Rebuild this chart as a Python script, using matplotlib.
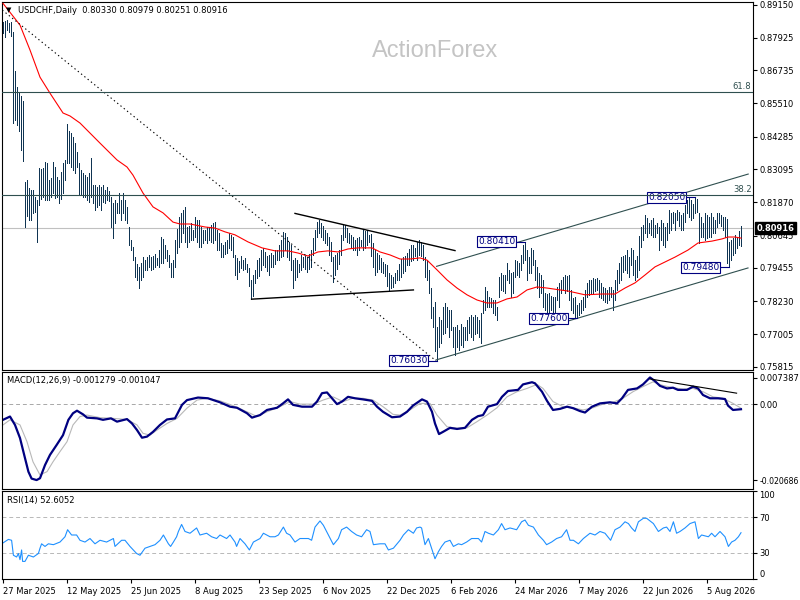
import numpy as np
import matplotlib
matplotlib.use("Agg")
import matplotlib.pyplot as plt
import matplotlib.transforms as mtransforms

W, H = 800, 600

# daily bars, prices in 1/10000 (bar 0 = 27 Mar 2025)
highs = [
    8850, 8855, 8860, 8848, 8852, 8815, 8670, 8610, 8590, 8580,
    8560, 8262, 8270, 8240, 8232, 8232, 8206, 8196, 8313, 8310,
    8313, 8335, 8332, 8269, 8276, 8335, 8317, 8280, 8269, 8300,
    8332, 8343, 8476, 8450, 8442, 8428, 8405, 8372, 8330, 8306,
    8295, 8287, 8280, 8295, 8350, 8250, 8250, 8243, 8250, 8243,
    8250, 8232, 8243, 8230, 8206, 8184, 8196, 8184, 8221, 8196,
    8221, 8196, 8170, 8096, 8048, 8023, 7986, 7960, 7949, 7964,
    7986, 7975, 7986, 7993, 7986, 7990, 7997, 7980, 8011, 8060,
    8050, 8030, 8011, 7993, 7964, 7975, 8048, 8090, 8133, 8147,
    8160, 8170, 8096, 8100, 8110, 8085, 8133, 8120, 8122, 8096,
    8085, 8085, 8096, 8096, 8105, 8111, 8115, 8085, 8074, 8037,
    8030, 8040, 8048, 8074, 8066, 8060, 7993, 7980, 7970, 7990,
    7974, 7980, 7960, 7945, 7901, 7920, 7938, 7974, 7980, 8011,
    8018, 8005, 7990, 7993, 8000, 7993, 8011, 8011, 8030, 8048,
    8078, 8074, 8060, 8040, 8030, 7974, 7980, 7974, 7960, 7993,
    7986, 7990, 7986, 7995, 8011, 8055, 8085, 8115, 8122, 8111,
    8100, 8085, 8074, 8060, 8040, 7986, 7993, 8000, 8011, 8066,
    8103, 8105, 8092, 8074, 8066, 8060, 8048, 8055, 8060, 8048,
    8085, 8080, 8085, 8066, 8070, 8037, 8011, 8000, 7993, 7980,
    7966, 7960, 7956, 7927, 7920, 7910, 7927, 7938, 7960, 7977,
    7986, 7990, 8000, 8015, 8030, 8030, 8018, 8041, 8048, 8041,
    8030, 7986, 7974, 7938, 7870, 7801, 7820, 7728, 7764, 7753,
    7800, 7816, 7801, 7790, 7790, 7728, 7728, 7735, 7717, 7740,
    7728, 7728, 7753, 7764, 7772, 7764, 7770, 7764, 7753, 7779,
    7827, 7875, 7860, 7838, 7835, 7827, 7827, 7801, 7912, 7927,
    7920, 7919, 7964, 7938, 7927, 7930, 7974, 7970, 7964, 7993,
    8030, 8041, 8011, 7986, 8018, 8011, 7974, 7950, 7927, 7919,
    7901, 7853, 7850, 7853, 7840, 7838, 7838, 7875, 7890, 7901,
    7912, 7919, 7915, 7919, 7864, 7835, 7838, 7809, 7816, 7827,
    7838, 7864, 7890, 7901, 7901, 7908, 7905, 7908, 7901, 7890,
    7875, 7870, 7864, 7875, 7875, 7864, 7901, 7938, 7964, 7986,
    7990, 7993, 8011, 7986, 8018, 8011, 7974, 7990, 8061, 8096,
    8103, 8140, 8129, 8111, 8120, 8129, 8103, 8111, 8096, 8122,
    8110, 8096, 8111, 8159, 8147, 8151, 8147, 8159, 8150, 8140,
    8147, 8177, 8196, 8203, 8196, 8180, 8205, 8200, 8147, 8133,
    8111, 8147, 8140, 8133, 8147, 8133, 8122, 8147, 8147, 8140,
    8133, 8133, 8125, 8040, 8048, 8055, 8066, 8060, 8080, 8098,
]
lows = [
    8812, 8795, 8820, 8815, 8800, 8480, 8490, 8470, 8450, 8380,
    8340, 8096, 8135, 8122, 8122, 8147, 8150, 8042, 8177, 8200,
    8206, 8196, 8196, 8196, 8206, 8221, 8203, 8206, 8184, 8200,
    8221, 8269, 8332, 8330, 8317, 8306, 8295, 8317, 8214, 8214,
    8206, 8206, 8196, 8188, 8206, 8184, 8159, 8170, 8177, 8159,
    8188, 8184, 8196, 8190, 8096, 8056, 8111, 8147, 8147, 8122,
    8147, 8122, 8111, 8030, 8012, 7975, 7912, 7900, 7872, 7901,
    7912, 7938, 7938, 7949, 7938, 7940, 7949, 7955, 7949, 7964,
    7964, 7980, 7970, 7949, 7912, 7912, 7949, 8000, 8023, 8040,
    8074, 8040, 8023, 8040, 8048, 8048, 8060, 8040, 8023, 8023,
    8037, 8048, 8037, 8048, 8040, 8037, 8048, 8011, 8011, 7986,
    7986, 7995, 8000, 8020, 8011, 7986, 7920, 7905, 7930, 7945,
    7938, 7940, 7930, 7880, 7830, 7840, 7890, 7908, 7915, 7938,
    7956, 7950, 7935, 7920, 7950, 7950, 7960, 7974, 7975, 7985,
    7990, 8011, 7986, 7974, 7938, 7872, 7900, 7912, 7930, 7938,
    7949, 7940, 7930, 7940, 7949, 7993, 8011, 8060, 8074, 8060,
    8048, 8037, 8030, 7993, 7970, 7893, 7919, 7940, 7960, 7993,
    8048, 8060, 8040, 8037, 8020, 8011, 8011, 7993, 8011, 8025,
    8011, 8020, 8030, 8040, 7990, 7950, 7920, 7930, 7940, 7930,
    7925, 7915, 7880, 7864, 7870, 7875, 7890, 7901, 7901, 7912,
    7927, 7935, 7956, 7956, 7970, 7974, 7990, 7974, 7993, 7990,
    7974, 7912, 7901, 7853, 7760, 7728, 7640, 7603, 7654, 7669,
    7700, 7706, 7728, 7691, 7717, 7654, 7625, 7654, 7643, 7660,
    7654, 7680, 7680, 7706, 7691, 7680, 7700, 7706, 7691, 7669,
    7779, 7790, 7800, 7801, 7801, 7779, 7772, 7753, 7838, 7864,
    7860, 7853, 7901, 7890, 7838, 7853, 7912, 7920, 7912, 7938,
    7964, 7974, 7901, 7927, 7927, 7956, 7901, 7870, 7838, 7853,
    7801, 7790, 7780, 7783, 7790, 7779, 7764, 7827, 7801, 7853,
    7864, 7853, 7860, 7827, 7790, 7779, 7764, 7760, 7772, 7780,
    7790, 7801, 7838, 7846, 7853, 7853, 7860, 7864, 7838, 7835,
    7827, 7820, 7816, 7827, 7838, 7790, 7827, 7864, 7890, 7901,
    7930, 7938, 7927, 7912, 7956, 7919, 7901, 7910, 7938, 8023,
    8048, 8074, 8060, 8074, 8066, 8060, 8060, 8074, 8011, 8048,
    8030, 8023, 8048, 8074, 8085, 8111, 8085, 8122, 8100, 8085,
    8085, 8114, 8147, 8133, 8122, 8130, 8147, 8150, 8037, 8060,
    8060, 8048, 8055, 8060, 8060, 8074, 8074, 8096, 8111, 8100,
    8085, 8060, 7965, 7948, 7974, 7993, 8000, 8020, 8030, 8025,
]

# red moving average
ma_idx = [0, 8.5, 13.5, 18.5, 23.5, 30, 33.5, 38.5, 43.5, 48.5,
          57, 62, 65, 70, 75, 80, 85, 88.5, 93.5, 101,
          106, 111, 116, 122.5, 129.5, 136, 142.5, 147.5, 152.5, 157.5,
          162.5, 167.5, 172.5, 177.5, 184.5, 188.5, 193.5, 198.5, 203.5, 208.5,
          212, 217, 222, 227, 232, 237, 242, 247, 252, 257,
          262, 267, 272, 278.5, 282.5, 291, 299.5, 306, 311, 316,
          321, 326, 331, 336, 342.5, 347.5, 354.5, 359.5, 362.5, 366, 369]
ma_val = [8920, 8840, 8748, 8648, 8589, 8516, 8505, 8479, 8442, 8405,
          8343, 8317, 8287, 8221, 8170, 8148, 8114, 8107, 8107, 8096,
          8092, 8078, 8067, 8041, 8019, 8008, 8008, 8000, 7989, 8004,
          8008, 8004, 8015, 8019, 8019, 8004, 7993, 7978, 7978, 7982,
          7974, 7938, 7901, 7871, 7846, 7827, 7816, 7816, 7831, 7838,
          7864, 7875, 7871, 7864, 7860, 7846, 7849, 7849, 7871, 7890,
          7919, 7949, 7967, 7985, 8011, 8037, 8044, 8052, 8059, 8059, 8055]

# MACD (units of 1e-4)
macd_idx = [0, 3.5, 6, 8.5, 11, 12.7, 14.3, 16.8, 18.5, 21,
            23.5, 26.8, 30, 32.7, 35, 37, 40, 42, 47, 50,
            54, 57, 62, 64.5, 67, 69.5, 72, 75, 78.5, 82,
            86, 89.5, 92, 97.5, 102.5, 108.5, 113.5, 117, 122, 124.5,
            128.5, 132, 137, 140, 142.5, 145, 149.5, 154.5, 157, 159.5,
            162, 164.5, 167, 169.5, 172.5, 176, 180, 184.5, 187, 190,
            194.5, 198.5, 202, 205, 209.5, 212, 214.5, 216, 218, 220,
            223.5, 227, 231, 234.5, 237.5, 240, 242.5, 247, 249.5, 252.5,
            257.5, 260, 264.5, 266, 269.5, 272, 275, 278.5, 282, 285,
            288.5, 291, 294.5, 298.5, 303.5, 307, 309.5, 312.5, 317, 320,
            323.5, 326, 328.5, 332, 335, 337.5, 342, 345, 347.5, 350,
            353.5, 357.5, 361, 362.5, 365, 369]
macd_main = [-42, -33, -56, -92, -147, -184, -203, -207, -202, -166,
             -138, -111, -84, -42, -24, -17, -27, -36, -38, -42,
             -38, -47, -40, -52, -70, -91, -88, -75, -56, -41,
             -38, -1, 12, 19, 17, 6, -6, -9, -24, -36,
             -29, -15, -9, 3, 14, -1, -6, -6, 8, 31,
             33, 17, 1, 8, 21, 17, 14, 10, -6, -20,
             -35, -33, -20, -3, 14, 8, -20, -52, -81, -75,
             -64, -67, -64, -42, -32, -29, -6, 1, 21, 37,
             40, 55, 61, 58, 35, 10, -15, -12, -6, -10,
             -18, -22, -6, 3, 6, 3, 17, 40, 44, 55,
             74, 64, 51, 44, 46, 40, 40, 49, 44, 26,
             17, 17, 15, -3, -15, -13]
sig_idx = [0, 3.5, 8.5, 12, 15, 18.5, 22, 25, 28.5, 32,
           35, 38.5, 42, 48.5, 55, 62, 67, 70, 73.5, 77,
           82, 87, 92, 97, 102, 108.5, 115, 122, 127, 132,
           138.5, 143.5, 148.5, 155, 160, 165, 170, 175, 180, 185,
           190, 195, 198.5, 203.5, 208.5, 213.5, 217, 222, 227, 232,
           237, 242, 247, 252, 257, 262, 267, 270, 275, 280,
           285, 290, 295, 300, 305, 310, 315, 320, 325, 330,
           335, 340, 345, 350, 355, 360, 365, 369]
sig_vals = [-56, -42, -56, -102, -157, -193, -184, -157, -129, -102,
            -56, -33, -29, -36, -38, -41, -56, -79, -84, -70,
            -52, -38, -10, 12, 17, 10, -3, -20, -33, -20,
            -6, 8, 1, 1, 12, 21, 8, 17, 17, 12,
            -6, -27, -29, -15, 3, 3, -29, -61, -65, -64,
            -47, -29, -9, 21, 35, 44, 55, 44, 8, -6,
            -9, -15, -9, 1, 6, 17, 35, 49, 62, 52,
            46, 42, 44, 35, 21, 17, 3, -10]

# RSI(14)
rsi_idx = [0, 2.7, 4.3, 5.2, 6.8, 7.7, 8.5, 9.3, 9.8, 11,
           12.7, 15.2, 17.7, 18.5, 19.3, 21, 22.7, 25.2, 28.5, 31,
           32.3, 34.3, 36.8, 38.5, 41, 43.5, 46, 48.5, 51.8, 55.2,
           56, 59.3, 61, 63.5, 66.8, 68.5, 71, 73.5, 76, 78.5,
           80.2, 82.7, 83.8, 85.2, 86.8, 87.7, 89.3, 91, 93.5, 96.8,
           98.5, 101.8, 104.3, 106.8, 108.5, 111.8, 113.5, 116, 116.8, 118.5,
           121, 123.2, 125.2, 128.5, 130.2, 133.5, 136, 137.7, 140.2, 141.8,
           143.5, 146, 148.5, 152.7, 154.3, 156, 158.5, 160.2, 162.7, 165.2,
           167.7, 169.3, 171.8, 174.3, 176.8, 179.3, 181.8, 183.5, 185.2, 188.5,
           191, 192.7, 195.2, 198.5, 200.2, 202.7, 205.2, 206.8, 208.5, 209.3,
           211, 212.7, 214.3, 216, 217.7, 219.3, 221, 223.5, 225.2, 227.7,
           229.3, 231.8, 234.3, 237.7, 239.3, 241, 242.7, 245.2, 247.7, 249.3,
           251, 253.5, 256.8, 259.3, 261, 262.7, 265.2, 267.7, 270.2, 271.8,
           274.3, 276.8, 279.3, 281.8, 283.5, 285.2, 287.7, 290.2, 293.5, 296,
           298.5, 301, 303.8, 306, 308.5, 311, 312.7, 314.3, 316, 317.7,
           320.2, 321.8, 325.2, 327.7, 330.2, 331.8, 333.5, 335.2, 336.8, 338.5,
           341, 343.5, 346, 347.7, 349.3, 352.7, 354.3, 356, 358.5, 361,
           362.7, 364.3, 366, 367.7, 369]
rsi_vals = [41, 45, 44, 27, 25, 29, 22, 33, 20, 20,
            27, 25, 29, 35, 40, 37, 40, 39, 42, 48,
            56, 50, 50, 44, 42, 46, 40, 44, 42, 46,
            37, 44, 44, 37, 29, 27, 35, 37, 39, 44,
            50, 40, 37, 42, 48, 54, 62, 54, 52, 58,
            50, 52, 48, 46, 50, 46, 50, 42, 37, 46,
            40, 33, 42, 46, 52, 48, 48, 50, 59, 52,
            50, 42, 46, 46, 44, 59, 66, 61, 50, 39,
            46, 56, 59, 54, 50, 48, 56, 54, 39, 40,
            40, 33, 35, 44, 50, 56, 52, 58, 59, 58,
            39, 46, 35, 23, 31, 37, 42, 44, 37, 40,
            39, 42, 46, 46, 42, 54, 52, 50, 56, 63,
            56, 58, 56, 65, 67, 61, 59, 50, 44, 39,
            42, 46, 48, 56, 44, 44, 40, 46, 52, 50,
            54, 52, 44, 56, 59, 65, 63, 58, 54, 65,
            69, 69, 63, 54, 58, 59, 54, 65, 52, 54,
            58, 63, 65, 46, 50, 48, 52, 48, 54, 48,
            37, 42, 44, 48, 52.6]

price_ticks = [0.89150, 0.87925, 0.86735, 0.85510, 0.84285, 0.83095,
               0.81870, 0.80645, 0.79455, 0.78230, 0.77005, 0.75815]
date_labels = ["27 Mar 2025", "12 May 2025", "25 Jun 2025", "8 Aug 2025",
               "23 Sep 2025", "6 Nov 2025", "22 Dec 2025", "6 Feb 2026",
               "24 Mar 2026", "7 May 2026", "22 Jun 2026", "5 Aug 2026"]
date_step = 32

label_idx = [217, 261, 287, 346, 363]
label_vals = [0.76030, 0.80410, 0.77600, 0.82050, 0.79480]

fib_high, fib_low, fib_high_idx, fib_low_idx = 0.9203, 0.7603, -52, 216.5
fib_levels = [38.2, 61.8]
last_close = 0.80916

tri_upper = ([146, 226], [0.8146, 0.8009])
tri_lower = ([124.3, 205.2], [0.7830, 0.7864])
chan_lower = ([216.5, 372.5], [0.7606, 0.7945])
chan_upper = ([216.8, 372.6], [0.7951, 0.8291])
macd_trend = ([323.5, 366.8], [0.0070, 0.0031])

bar_c = "#0f3452"
slate = "#2f4f4f"
navy = "#000080"

fig = plt.figure(figsize=(W / 100, H / 100), dpi=100)
fig.patch.set_facecolor("white")


def px_axes(x0, y0, x1, y1):
    return fig.add_axes([x0 / W, 1 - y1 / H, (x1 - x0) / W, (y1 - y0) / H])


ax_p = px_axes(2, 2, 753, 370)
ax_m = px_axes(2, 372, 753, 489)
ax_r = px_axes(2, 491, 753, 579)

for ax in (ax_p, ax_m, ax_r):
    ax.set_xlim(-0.5, 375)
    ax.yaxis.tick_right()
    ax.tick_params(axis="y", direction="out", length=3, width=0.8,
                   labelsize=6, pad=1.5, colors="black")
    for s in ax.spines.values():
        s.set_linewidth(0.8)
        s.set_color("black")
for ax in (ax_p, ax_m):
    ax.tick_params(axis="x", bottom=False, labelbottom=False)

# ---- price panel ----
idx = np.arange(len(highs))
ax_p.set_ylim(0.7569, 0.8925)
ax_p.vlines(idx, np.array(lows) / 1e4, np.array(highs) / 1e4,
            color=bar_c, lw=0.5, antialiased=False, zorder=3)
ax_p.plot(ma_idx, np.array(ma_val) / 1e4, color="red", lw=0.8, zorder=4)
ax_p.axhline(last_close, color="#c0c0c0", lw=0.8, zorder=1)

trans = mtransforms.blended_transform_factory(ax_p.transAxes, ax_p.transData)
for lv in fib_levels:
    y = fib_low + lv / 100 * (fib_high - fib_low)
    ax_p.axhline(y, color=slate, lw=0.8, zorder=6)
    ax_p.text(0.998, y + 0.0004, f"{lv:.1f}", transform=trans, ha="right",
              va="bottom", fontsize=6, color=slate)
ax_p.plot([fib_high_idx, fib_low_idx], [fib_high, fib_low], color="black",
          lw=0.8, ls=(0, (1.2, 2.6)), zorder=4)

ax_p.plot(*tri_upper, color="black", lw=1.0, zorder=4)
ax_p.plot(*tri_lower, color="black", lw=1.0, zorder=4)
ax_p.plot(*chan_lower, color=slate, lw=0.8, zorder=4)
ax_p.plot(*chan_upper, color=slate, lw=0.8, zorder=4)

for i, v in zip(label_idx, label_vals):
    ax_p.plot([i - 4.5, i], [v, v], color=navy, lw=0.8, zorder=5)
    ax_p.text(i - 4.8, v, f"{v:.5f}", ha="right", va="center", fontsize=6.5,
              color=navy, zorder=5,
              bbox=dict(boxstyle="square,pad=0.12", fc="white", ec=navy, lw=0.8))

ax_p.set_yticks(price_ticks)
ax_p.set_yticklabels([f"{t:.5f}" for t in price_ticks])
ax_p.text(1.0045, last_close, f"{last_close:.5f}", transform=trans, ha="left",
          va="center", fontsize=6, color="white", fontweight="bold",
          clip_on=False, zorder=10,
          bbox=dict(boxstyle="square,pad=0.2", fc="black", ec="black"))

# ---- MACD panel ----
ax_m.set_ylim(-0.02315, 0.0089)
ax_m.axhline(0, color="#a8a8a8", lw=0.7, ls=(0, (4, 3)))
ax_m.plot(sig_idx, np.array(sig_vals) / 1e4, color="#b8b8b8", lw=0.8)
ax_m.plot(macd_idx, np.array(macd_main) / 1e4, color=navy, lw=1.6)
ax_m.plot(*macd_trend, color="black", lw=0.8)
ax_m.set_yticks([0.007387, 0.0, -0.020686])
ax_m.set_yticklabels(["0.007387", "0.00", "-0.020686"])
ax_m.get_yticklabels()[2].set_fontsize(5.6)

# ---- RSI panel ----
ax_r.set_ylim(0, 100)
for lvl in (70, 30):
    ax_r.axhline(lvl, color="#b8b8b8", lw=0.7, ls=(0, (4, 3)))
ax_r.plot(rsi_idx, rsi_vals, color="#1e90ff", lw=0.8)
ax_r.set_yticks([100, 70, 30, 0])
ax_r.set_yticklabels(["100", "70", "30", "0"])
rl = ax_r.get_yticklabels()
rl[0].set_va("top")
rl[3].set_va("bottom")

ax_r.set_xticks(np.arange(len(date_labels)) * date_step)
ax_r.set_xticklabels(date_labels)
ax_r.tick_params(axis="x", direction="out", length=3, width=0.8,
                 labelsize=6, pad=3)
for t in ax_r.get_xticklabels():
    t.set_ha("left")

# ---- texts ----
fig.text(9 / W, 1 - 10.5 / H, "\u25bc", fontsize=5, ha="center", va="center")
fig.text(18 / W, 1 - 10.5 / H, "USDCHF,Daily  0.80330 0.80979 0.80251 0.80916",
         fontsize=6, va="center")
fig.text(7 / W, 1 - 381 / H, "MACD(12,26,9) -0.001279 -0.001047",
         fontsize=6, va="center")
fig.text(7 / W, 1 - 501 / H, "RSI(14) 52.6052", fontsize=6, va="center")
fig.text(435 / W, 1 - 51 / H, "ActionForex", fontsize=17, color="#c4c4c4",
         family="Liberation Sans", ha="center", va="center")

fig.savefig("out.png", dpi=100)
